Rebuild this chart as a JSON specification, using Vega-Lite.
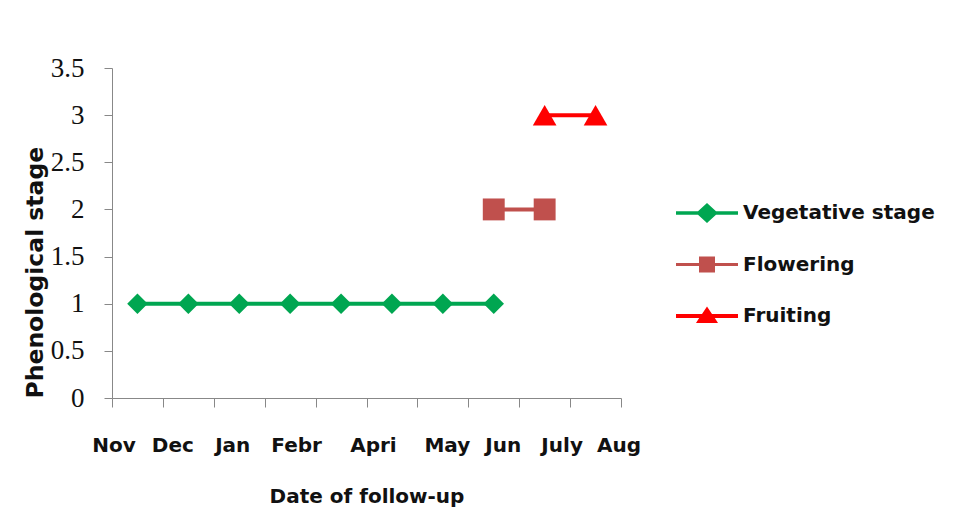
{
  "$schema": "https://vega.github.io/schema/vega-lite/v6.json",
  "width": 509,
  "height": 330,
  "autosize": "none",
  "padding": {"left": 112, "top": 68, "right": 346, "bottom": 124},
  "background": "white",
  "config": {"view": {"stroke": null}},
  "data": {"values": [
    {"month": "Nov", "stage": 1, "series": "Vegetative stage"},
    {"month": "Dec", "stage": 1, "series": "Vegetative stage"},
    {"month": "Jan", "stage": 1, "series": "Vegetative stage"},
    {"month": "Febr", "stage": 1, "series": "Vegetative stage"},
    {"month": "Mar", "stage": 1, "series": "Vegetative stage"},
    {"month": "Apri", "stage": 1, "series": "Vegetative stage"},
    {"month": "May", "stage": 1, "series": "Vegetative stage"},
    {"month": "Jun", "stage": 1, "series": "Vegetative stage"},
    {"month": "Jun", "stage": 2, "series": "Flowering"},
    {"month": "July", "stage": 2, "series": "Flowering"},
    {"month": "July", "stage": 3, "series": "Fruiting"},
    {"month": "Aug", "stage": 3, "series": "Fruiting"}
  ]},
  "encoding": {
    "x": {
      "field": "month", "type": "ordinal",
      "scale": {"type": "band", "domain": ["Nov","Dec","Jan","Febr","Mar","Apri","May","Jun","July","Aug"], "paddingInner": 0, "paddingOuter": 0},
      "axis": {
        "title": "Date of follow-up",
        "labelAngle": 0,
        "labelFont": "DejaVu Sans", "labelFontWeight": "bold", "labelFontSize": 20, "labelColor": "#111",
        "labelPadding": 28,
        "labelExpr": "datum.value == 'Mar' ? '' : datum.value",
        "labelOffset": {"condition": [
          {"test": "datum.value=='Nov'", "value": -24},
          {"test": "datum.value=='Dec'", "value": -16},
          {"test": "datum.value=='Jan'", "value": -7},
          {"test": "datum.value=='Febr'", "value": 6},
          {"test": "datum.value=='Apri'", "value": -19},
          {"test": "datum.value=='May'", "value": 4},
          {"test": "datum.value=='Jun'", "value": 9},
          {"test": "datum.value=='July'", "value": 17},
          {"test": "datum.value=='Aug'", "value": 23}
        ], "value": 0},
        "tickSize": 9, "tickBand": "extent", "tickColor": "#888", "domainColor": "#888", "grid": false,
        "titleFont": "DejaVu Sans", "titleFontWeight": "bold", "titleFontSize": 20, "titleColor": "#111", "titlePadding": 31
      }
    },
    "y": {
      "field": "stage", "type": "quantitative",
      "scale": {"domain": [0, 3.5], "nice": false},
      "axis": {
        "title": "Phenological stage",
        "values": [0, 0.5, 1, 1.5, 2, 2.5, 3, 3.5],
        "format": "~g",
        "labelFont": "Liberation Serif", "labelFontSize": 27, "labelColor": "#111", "labelPadding": 20,
        "tickSize": 8, "tickColor": "#888", "domainColor": "#888", "grid": false,
        "titleFont": "DejaVu Sans", "titleFontWeight": "bold", "titleFontSize": 23.5, "titleColor": "#111",
        "titlePadding": 3, "titleAnchor": "start"
      }
    },
    "color": {
      "field": "series", "type": "nominal",
      "scale": {"domain": ["Vegetative stage", "Flowering", "Fruiting"], "range": ["#00A651", "#C0504D", "#FF0000"]},
      "legend": {
        "title": null, "orient": "none", "legendX": 585, "legendY": 135, "padding": 0,
        "symbolSize": 400, "labelOffset": 26, "rowPadding": 31.5, "labelLimit": 400,
        "labelFont": "DejaVu Sans", "labelFontWeight": "bold", "labelFontSize": 20, "labelColor": "#111",
        "encode": {"symbols": {"update": {
          "shape": {"signal": "datum.value=='Vegetative stage' ? 'M-3.1,-0.18L-0.9,-0.18L0,-1L0.9,-0.18L3.1,-0.18L3.1,0.18L0.9,0.18L0,1L-0.9,0.18L-3.1,0.18Z' : datum.value=='Flowering' ? 'M-3.1,-0.15L-0.8,-0.15L-0.8,-0.8L0.8,-0.8L0.8,-0.15L3.1,-0.15L3.1,0.15L0.8,0.15L0.8,0.8L-0.8,0.8L-0.8,0.15L-3.1,0.15Z' : 'M-3.1,-0.2L-0.5,-0.2L0,-0.95L0.5,-0.2L3.1,-0.2L3.1,0.2L0.78,0.2L1.1,0.7L-1.1,0.7L-0.78,0.2L-3.1,0.2Z'"},
          "fill": {"signal": "scale('color', datum.value)"},
          "fillOpacity": {"value": 1},
          "stroke": {"value": "transparent"},
          "strokeWidth": {"value": 0}
        }}}
      }
    }
  },
  "layer": [
    {"mark": {"type": "line", "strokeWidth": 4}},
    {"transform": [{"filter": "datum.series == 'Vegetative stage'"}],
     "mark": {"type": "point", "shape": "diamond", "filled": true, "opacity": 1, "size": 420}},
    {"transform": [{"filter": "datum.series == 'Flowering'"}],
     "mark": {"type": "point", "shape": "square", "filled": true, "opacity": 1, "size": 480}},
    {"transform": [{"filter": "datum.series == 'Fruiting'"}],
     "mark": {"type": "point", "shape": "triangle-up", "filled": true, "opacity": 1, "size": 560}}
  ]
}
